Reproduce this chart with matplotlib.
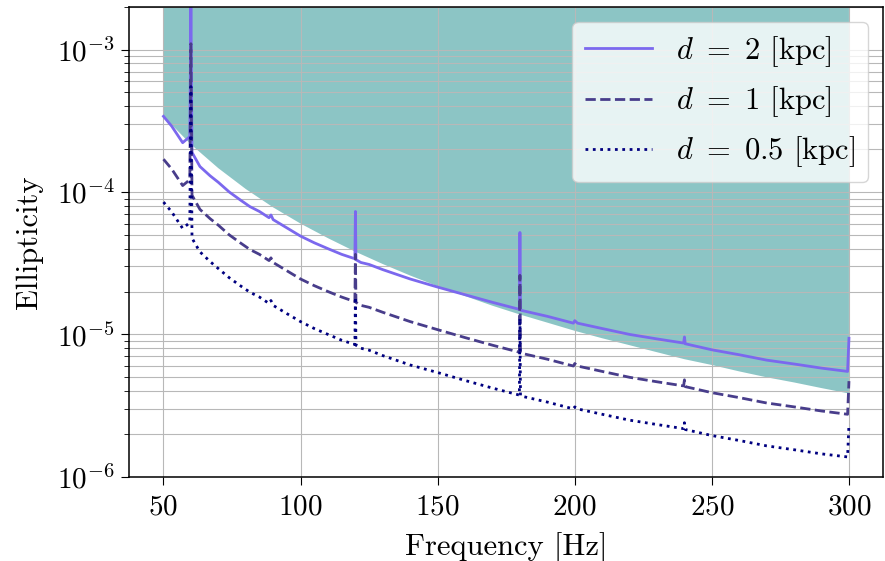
import matplotlib
matplotlib.use('Agg')
import matplotlib.pyplot as plt

plt.rcParams['font.family'] = 'serif'
plt.rcParams['font.serif'] = ['cmr10']
plt.rcParams['mathtext.fontset'] = 'cm'
plt.rcParams['axes.formatter.use_mathtext'] = True
plt.rcParams['axes.unicode_minus'] = False

# frecuencias [Hz] de las curvas
freq = [50, 53, 57, 59.6, 60, 60.4, 61.5, 63.3, 67, 70, 74, 78, 81.5, 85, 88.5, 89.2, 90,
        95, 100, 105, 110, 115, 119.8, 120, 120.2, 122, 125, 130, 140, 150, 160, 170,
        179.8, 180, 180.2, 190, 199.5, 200, 201, 210, 220, 230, 239.7, 240, 240.3,
        250, 260, 270, 280, 290, 299.5, 300]

# elipticidad d = 2 kpc
eps_2 = [3.4e-4, 2.9e-4, 2.22e-4, 2.45e-4, 2.2e-3, 1.9e-4, 1.74e-4, 1.51e-4, 1.3e-4, 1.17e-4,
         1.0e-4, 8.8e-5, 7.9e-5, 7.3e-5, 6.6e-5, 6.9e-5, 6.4e-5,
         5.6e-5, 4.9e-5, 4.4e-5, 4.0e-5, 3.65e-5, 3.4e-5, 7.3e-5, 3.35e-5, 3.2e-5, 3.1e-5,
         2.85e-5, 2.45e-5, 2.15e-5, 1.9e-5, 1.68e-5,
         1.5e-5, 5.2e-5, 1.48e-5, 1.34e-5, 1.2e-5, 1.25e-5, 1.2e-5, 1.1e-5, 1.0e-5, 9.3e-6,
         8.7e-6, 9.6e-6, 8.6e-6,
         7.8e-6, 7.2e-6, 6.6e-6, 6.2e-6, 5.8e-6, 5.5e-6, 9.4e-6]

# elipticidad d = 1 kpc
eps_1 = [1.7e-4, 1.45e-4, 1.11e-4, 1.22e-4, 1.1e-3, 9.5e-5, 8.7e-5, 7.55e-5, 6.5e-5, 5.85e-5,
         5.0e-5, 4.4e-5, 3.95e-5, 3.65e-5, 3.3e-5, 3.45e-5, 3.2e-5,
         2.8e-5, 2.45e-5, 2.2e-5, 2.0e-5, 1.83e-5, 1.7e-5, 3.65e-5, 1.68e-5, 1.6e-5, 1.55e-5,
         1.43e-5, 1.23e-5, 1.08e-5, 9.5e-6, 8.4e-6,
         7.5e-6, 2.6e-5, 7.4e-6, 6.7e-6, 6.0e-6, 6.25e-6, 6.0e-6, 5.5e-6, 5.0e-6, 4.65e-6,
         4.35e-6, 4.8e-6, 4.3e-6,
         3.9e-6, 3.6e-6, 3.3e-6, 3.1e-6, 2.9e-6, 2.75e-6, 4.7e-6]

# elipticidad d = 0.5 kpc
eps_05 = [8.5e-5, 7.25e-5, 5.55e-5, 6.1e-5, 5.5e-4, 4.75e-5, 4.35e-5, 3.8e-5, 3.25e-5, 2.9e-5,
          2.5e-5, 2.2e-5, 1.98e-5, 1.83e-5, 1.65e-5, 1.73e-5, 1.6e-5,
          1.4e-5, 1.23e-5, 1.1e-5, 1.0e-5, 9.1e-6, 8.5e-6, 1.83e-5, 8.4e-6, 8.0e-6, 7.75e-6,
          7.1e-6, 6.1e-6, 5.4e-6, 4.75e-6, 4.2e-6,
          3.75e-6, 1.3e-5, 3.7e-6, 3.35e-6, 3.0e-6, 3.1e-6, 3.0e-6, 2.75e-6, 2.5e-6, 2.33e-6,
          2.18e-6, 2.4e-6, 2.15e-6,
          1.95e-6, 1.8e-6, 1.65e-6, 1.55e-6, 1.45e-6, 1.38e-6, 2.35e-6]

# limite inferior de la region sombreada
fill_freq = [50, 60, 70, 80, 90, 100, 110, 120, 130, 140, 150, 160, 170, 180, 190, 200,
             210, 220, 230, 240, 250, 260, 270, 280, 290, 300]
fill_eps = [3.4e-4, 2.16e-4, 1.47e-4, 1.05e-4, 7.8e-5, 6.0e-5, 4.74e-5, 3.81e-5, 3.12e-5,
            2.59e-5, 2.18e-5, 1.86e-5, 1.59e-5, 1.38e-5, 1.21e-5, 1.06e-5,
            9.4e-6, 8.4e-6, 7.5e-6, 6.7e-6, 6.1e-6, 5.5e-6, 5.0e-6, 4.6e-6, 4.2e-6, 3.85e-6]

fig = plt.figure(figsize=(8.85, 5.61), dpi=100)
ax = fig.add_axes([0.146, 0.150, 0.852, 0.838])

ax.fill_between(fill_freq, fill_eps, 1.0, color='teal', alpha=0.45, linewidth=0)
ax.plot(freq, eps_2, '-', color='mediumslateblue', lw=2, label=r'$d\ =\ 2$ [kpc]')
ax.plot(freq, eps_1, '--', color='darkslateblue', lw=2, label=r'$d\ =\ 1$ [kpc]')
ax.plot(freq, eps_05, ':', color='navy', lw=2, label=r'$d\ =\ 0.5$ [kpc]')

ax.set_yscale('log')
ax.set_xlim(37.5, 312.5)
ax.set_ylim(1e-6, 2e-3)
ax.set_xticks([50, 100, 150, 200, 250, 300])
ax.grid(which='both', color='#b8b8b8', lw=0.8)
ax.tick_params(labelsize=21)
ax.tick_params(which='major', length=5.5)
ax.tick_params(which='minor', length=3.5)
ax.tick_params(axis='x', pad=7)
ax.tick_params(axis='y', pad=5)
for s in ax.spines.values():
    s.set_linewidth(1.1)
ax.set_xlabel('Frequency [Hz]', fontsize=22, labelpad=8)
ax.set_ylabel('Ellipticity', fontsize=22, labelpad=10)
ax.legend(loc='upper right', fontsize=22, framealpha=0.8, handlelength=2.2,
          borderaxespad=0.5)

plt.savefig('out.png', dpi=100)
